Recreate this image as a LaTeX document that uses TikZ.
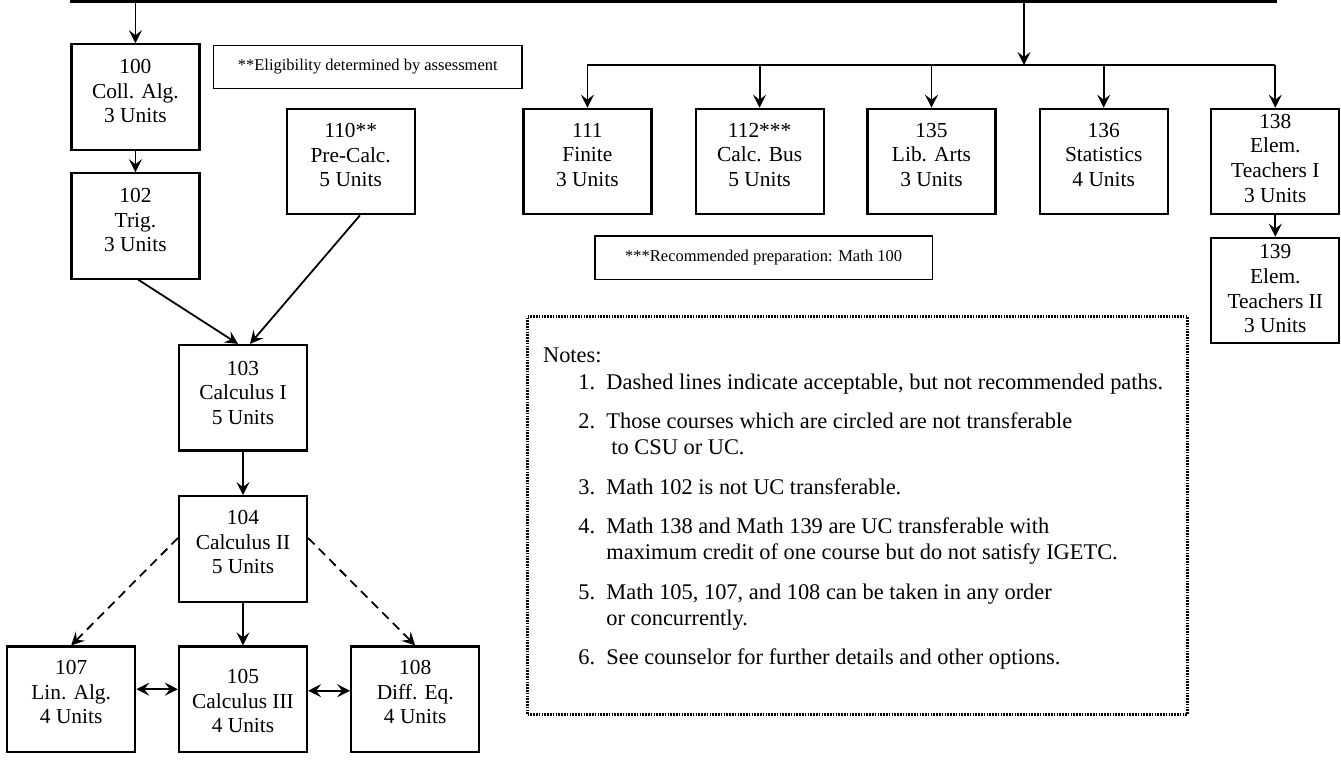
\documentclass[tikz,border=0pt]{standalone}
\usepackage{fontspec}
\setmainfont{Liberation Serif}
\usetikzlibrary{arrows.meta}
\begin{document}
\begin{tikzpicture}[x=0.5pt,y=-0.5pt,
  box/.style={draw, line width=1.1pt, minimum width=64pt, minimum height=52.7pt, inner sep=0pt},
  ctext/.style={align=center, inner sep=0pt, font=\fontsize{10.7}{12.35}\selectfont},
  arr/.style={line width=0.9pt, -{Stealth[length=6.5pt,width=6.5pt,inset=2.5pt]}},
  darr/.style={line width=0.9pt, {Stealth[length=6.5pt,width=6.5pt,inset=2.5pt]}-{Stealth[length=6.5pt,width=6.5pt,inset=2.5pt]}},
  dasharr/.style={arr, dash pattern=on 4.5pt off 3pt},
  plainline/.style={line width=0.9pt},
  topline/.style={line width=2.6pt},
  smallbox/.style={draw, line width=0.7pt, inner sep=0pt, font=\fontsize{8.25}{10}\selectfont},
  ntext/.style={inner sep=0pt, anchor=base west, font=\fontsize{11.2}{13}\selectfont},
  notesborder/.style={draw, line width=1.4pt, dash pattern=on 0.8pt off 0.6pt, inner sep=0pt}
]
\useasboundingbox (0,0) rectangle (1341,761);

% top line
\coordinate (tl) at (70,0);
\coordinate (tr) at (1276.6,0);
\draw[topline] (tl) -- (tr);
\coordinate (split) at (1024,65);

% boxes
\node[box] (n100) at (135.4,97) {};
\node[box] (n102) at (135.4,226) {};
\node[box] (n110) at (350.7,161.5) {};
\node[box] (n103) at (243,397.7) {};
\node[box] (n104) at (243,548.9) {};
\node[box] (n105) at (243,699.2) {};
\node[box] (n107) at (71.2,699.2) {};
\node[box] (n108) at (415.2,699.2) {};
\node[box] (n111) at (587.4,161.5) {};
\node[box] (n112) at (759.6,161.5) {};
\node[box] (n135) at (931.5,161.5) {};
\node[box] (n136) at (1103.7,161.5) {};
\node[box] (n138) at (1275.3,161.5) {};
\node[box] (n139) at (1275.3,290.5) {};

% box texts
\node[ctext] (t100) at (135.4,91) {100\\Coll. Alg.\\3 Units};
\node[ctext] (t102) at (135.4,220) {102\\Trig.\\3 Units};
\node[ctext] (t110) at (350.7,155) {110**\\Pre-Calc.\\5 Units};
\node[ctext] (t103) at (243,392.7) {103\\Calculus I\\5 Units};
\node[ctext] (t104) at (243,542) {104\\Calculus II\\5 Units};
\node[ctext] (t105) at (243,701) {105\\Calculus III\\4 Units};
\node[ctext] (t107) at (71.2,692) {107\\Lin. Alg.\\4 Units};
\node[ctext] (t108) at (415.2,692) {108\\Diff. Eq.\\4 Units};
\node[ctext] (t111) at (587.4,155) {111\\Finite\\3 Units};
\node[ctext] (t112) at (759.6,155) {112***\\Calc. Bus\\5 Units};
\node[ctext] (t135) at (931.5,155) {135\\Lib. Arts\\3 Units};
\node[ctext] (t136) at (1103.7,155) {136\\Statistics\\4 Units};
\node[ctext] (t138) at (1275.3,158.3) {138\\Elem.\\Teachers I\\3 Units};
\node[ctext] (t139) at (1275.3,288.7) {139\\Elem.\\Teachers II\\3 Units};

% footnote boxes
\node[smallbox, minimum width=154.2pt, minimum height=21.6pt] (elig) at (367.75,67) {**Eligibility determined by assessment};
\node[smallbox, minimum width=168.6pt, minimum height=21.8pt] (rec) at (763.6,257.9) {***Recommended preparation: Math 100};

% connectors
\draw[arr] (n100.north |- tl) -- (n100.north);
\draw[arr] (split |- tl) -- (split);
\draw[plainline] (n111.north |- split) -- (n138.north |- split);
\foreach \n in {n111,n112,n135,n136,n138}{
  \draw[arr] (\n.north |- split) -- (\n.north);
}
\draw[arr] (n100) -- (n102);
\draw[arr] (n138) -- (n139);
\draw[arr] ([xshift=1.5pt]n102.south) -- ([xshift=-2.5pt]n103.north);
\draw[arr] ([xshift=4.65pt]n110.south) -- ([xshift=3.5pt]n103.north);
\draw[arr] (n103) -- (n104);
\draw[arr] (n104) -- (n105);
\draw[dasharr] ([yshift=5.45pt]n104.west) -- (n107.north);
\draw[dasharr] ([yshift=5.45pt]n104.east) -- (n108.north);
\draw[darr] ([yshift=5pt]n107.east) -- ([yshift=5pt]n105.west);
\draw[darr] ([yshift=4.25pt]n105.east) -- ([yshift=4.25pt]n108.west);

% notes
\node[notesborder, minimum width=330pt, minimum height=199pt] (notes) at (857.5,515.5) {};
\node[ntext] (nh) at (542.7,362) {Notes:};
\node[ntext] (k1) at (578,389) {1.};
\node[ntext] (l1) at (606,389) {Dashed lines indicate acceptable, but not recommended paths.};
\node[ntext] (k2) at (578,428.5) {2.};
\node[ntext] (l2) at (606,428.5) {Those courses which are circled are not transferable};
\node[ntext] (l2b) at (611,454.5) {to CSU or UC.};
\node[ntext] (k3) at (578,494) {3.};
\node[ntext] (l3) at (606,494) {Math 102 is not UC transferable.};
\node[ntext] (k4) at (578,533.5) {4.};
\node[ntext] (l4) at (606,533.5) {Math 138 and Math 139 are UC transferable with};
\node[ntext] (l4b) at (606,559.5) {maximum credit of one course but do not satisfy IGETC.};
\node[ntext] (k5) at (578,599) {5.};
\node[ntext] (l5) at (606,599) {Math 105, 107, and 108 can be taken in any order};
\node[ntext] (l5b) at (606,625) {or concurrently.};
\node[ntext] (k6) at (578,664.5) {6.};
\node[ntext] (l6) at (606,664.5) {See counselor for further details and other options.};
\end{tikzpicture}
\end{document}
